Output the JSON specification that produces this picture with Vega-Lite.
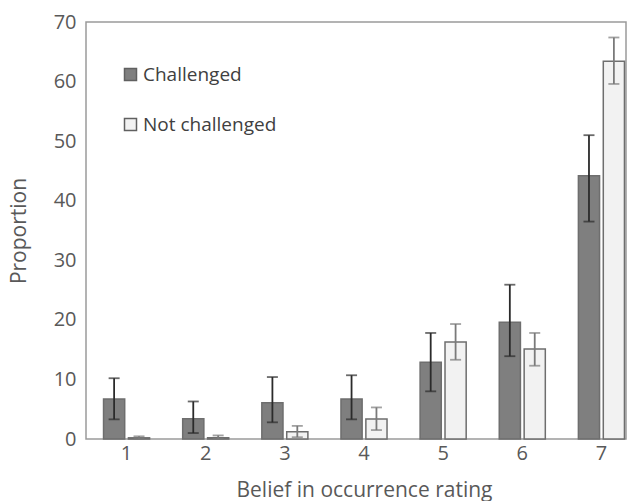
{
  "$schema": "https://vega.github.io/schema/vega-lite/v6.json",
  "width": 540,
  "height": 417,
  "autosize": {"type": "none"},
  "padding": {"left": 86, "top": 22, "right": 10, "bottom": 62},
  "background": "white",
  "config": {
    "font": "Open Sans",
    "view": {"stroke": "#9a9a9a", "strokeWidth": 1.5},
    "axis": {"grid": false, "ticks": false, "domain": false, "labelColor": "#595959", "titleColor": "#595959", "labelFontSize": 20, "titleFontSize": 21, "titleFontWeight": "normal", "labelFont": "Open Sans", "titleFont": "Open Sans"}
  },
  "data": {
    "values": [
      {"rating": "1", "group": "Challenged", "value": 6.7, "lo": 3.3, "hi": 10.2},
      {"rating": "1", "group": "Not challenged", "value": 0.2, "lo": 0.0, "hi": 0.45},
      {"rating": "2", "group": "Challenged", "value": 3.4, "lo": 1.0, "hi": 6.3},
      {"rating": "2", "group": "Not challenged", "value": 0.2, "lo": 0.0, "hi": 0.6},
      {"rating": "3", "group": "Challenged", "value": 6.1, "lo": 2.8, "hi": 10.4},
      {"rating": "3", "group": "Not challenged", "value": 1.2, "lo": 0.3, "hi": 2.2},
      {"rating": "4", "group": "Challenged", "value": 6.7, "lo": 3.3, "hi": 10.7},
      {"rating": "4", "group": "Not challenged", "value": 3.35, "lo": 1.5, "hi": 5.3},
      {"rating": "5", "group": "Challenged", "value": 12.9, "lo": 8.0, "hi": 17.8},
      {"rating": "5", "group": "Not challenged", "value": 16.3, "lo": 13.3, "hi": 19.3},
      {"rating": "6", "group": "Challenged", "value": 19.6, "lo": 13.9, "hi": 25.9},
      {"rating": "6", "group": "Not challenged", "value": 15.1, "lo": 12.3, "hi": 17.8},
      {"rating": "7", "group": "Challenged", "value": 44.2, "lo": 36.5, "hi": 51.0},
      {"rating": "7", "group": "Not challenged", "value": 63.4, "lo": 59.6, "hi": 67.4}
    ]
  },
  "encoding": {
    "x": {"field": "rating", "type": "nominal", "scale": {"range": [1, 555], "paddingInner": 0.418, "paddingOuter": 0.209}, "axis": {"labelAngle": 0, "labelPadding": 4, "title": "Belief in occurrence rating", "titlePadding": 16}},
    "xOffset": {"field": "group", "type": "nominal", "scale": {"paddingInner": 0.15, "domain": ["Challenged", "Not challenged"]}}
  },
  "layer": [
    {
      "mark": {"type": "bar", "stroke": "#6e6e6e", "strokeWidth": 1.5},
      "encoding": {
        "y": {"field": "value", "type": "quantitative", "scale": {"domain": [0, 70]}, "axis": {"values": [0, 10, 20, 30, 40, 50, 60, 70], "title": "Proportion", "labelPadding": 10, "titlePadding": 24}},
        "fill": {"field": "group", "type": "nominal", "scale": {"domain": ["Challenged", "Not challenged"], "range": ["#7f7f7f", "#f2f2f2"]},
          "legend": {"title": null, "orient": "none", "legendX": 35, "legendY": 43, "symbolType": "square", "symbolSize": 144, "symbolStrokeColor": "#606060", "symbolStrokeWidth": 1.5, "labelFontSize": 19, "labelColor": "#404040", "labelFont": "Open Sans", "rowPadding": 30, "labelOffset": 3}}
      }
    },
    {
      "mark": {"type": "rule", "strokeWidth": 1.8},
      "encoding": {
        "y": {"field": "lo", "type": "quantitative"},
        "y2": {"field": "hi"},
        "stroke": {"condition": {"test": "datum.group === 'Challenged'", "value": "#2b2b2b"}, "value": "#7a7a7a"}
      }
    },
    {
      "mark": {"type": "tick", "size": 11, "thickness": 1.8},
      "encoding": {
        "y": {"field": "lo", "type": "quantitative"},
        "color": {"condition": {"test": "datum.group === 'Challenged'", "value": "#2b2b2b"}, "value": "#7a7a7a"}
      }
    },
    {
      "mark": {"type": "tick", "size": 11, "thickness": 1.8},
      "encoding": {
        "y": {"field": "hi", "type": "quantitative"},
        "color": {"condition": {"test": "datum.group === 'Challenged'", "value": "#2b2b2b"}, "value": "#7a7a7a"}
      }
    }
  ]
}
